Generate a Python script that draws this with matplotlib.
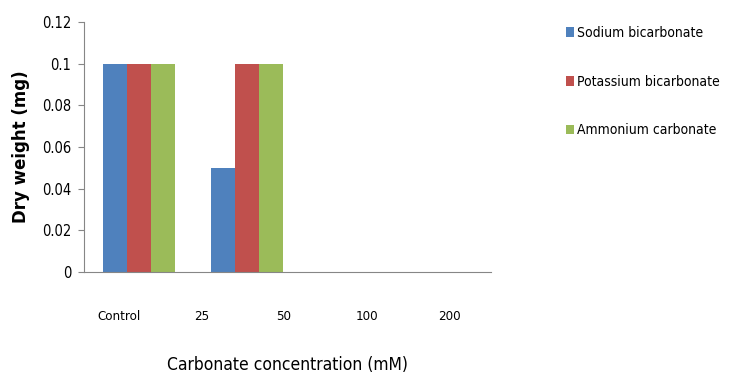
import matplotlib.pyplot as plt
import numpy as np

plt.rcParams['font.family'] = ['DejaVu Sans Condensed', 'DejaVu Sans']
plt.rcParams['font.stretch'] = 'condensed'

categories = ["Control", "25", "50", "100", "200"]
sodium = [0.1, 0.05, 0, 0, 0]
potassium = [0.1, 0.1, 0, 0, 0]
ammonium = [0.1, 0.1, 0, 0, 0]
series = [("Sodium bicarbonate", sodium, "#4F81BD"),
          ("Potassium bicarbonate", potassium, "#C0504D"),
          ("Ammonium carbonate", ammonium, "#9BBB59")]
yticks = [0, 0.02, 0.04, 0.06, 0.08, 0.1, 0.12]
ytick_labels = ["0", "0.02", "0.04", "0.06", "0.08", "0.1", "0.12"]

fig = plt.figure(figsize=(7.36, 3.8), dpi=100)
ax = fig.add_axes([0.114, 0.284, 0.553, 0.658])

x = np.arange(len(categories))
# bar groups sit on a wider step than the category labels
group_x = x * 1.3 + 0.25
w = 0.29
for i, (label, vals, col) in enumerate(series):
    ax.bar(group_x + (i - 1) * w, vals, w, color=col, label=label)

ax.set_xlim(-0.42, 4.5)
ax.set_ylim(0, 0.12)
ax.set_yticks(yticks)
ax.set_yticklabels(ytick_labels, fontsize=10.5)
ax.set_xticks(x)
ax.set_xticklabels(categories, fontsize=9.5)
ax.tick_params(axis='x', length=0, pad=27)
ax.tick_params(axis='y', length=4, color='#868686', pad=5)

for s in ['top', 'right']:
    ax.spines[s].set_visible(False)
for s in ['left', 'bottom']:
    ax.spines[s].set_color('#868686')

ax.set_ylabel("Dry weight (mg)", fontsize=12, fontweight='bold',
              family='DejaVu Sans', stretch='normal', labelpad=9)
ax.set_xlabel("Carbonate concentration (mM)", fontsize=12.5, labelpad=24)

fig.legend(loc='upper left', bbox_to_anchor=(0.752, 0.965), frameon=False,
           fontsize=10, labelspacing=2.5, handlelength=0.6, handleheight=0.7,
           handletextpad=0.2)

fig.savefig("out.png", dpi=100)
